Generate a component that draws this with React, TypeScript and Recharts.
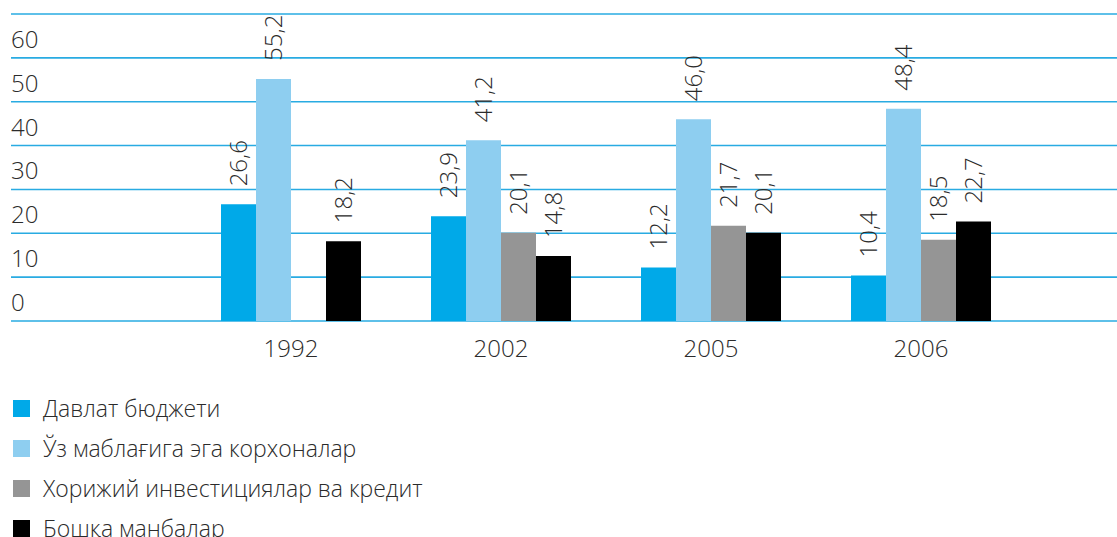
import { BarChart, Bar, XAxis, YAxis, CartesianGrid, LabelList } from "recharts";

// Investment sources by year, %
const years = ["1992", "2002", "2005", "2006"];
const davlatByudjeti = [26.6, 23.9, 12.2, 10.4];
const uzMablagi = [55.2, 41.2, 46.0, 48.4];
const xorijiyInvest = [null, 20.1, 21.7, 18.5];
const boshqaManbalar = [18.2, 14.8, 20.1, 22.7];
const yTicks = [0, 10, 20, 30, 40, 50, 60, 70];

const series = [
  { key: "davlat", name: "Давлат бюджети", color: "#00a9e8", values: davlatByudjeti },
  { key: "uz", name: "Ўз маблағига эга корхоналар", color: "#8ecef0", values: uzMablagi },
  { key: "xorijiy", name: "Хорижий инвестициялар ва кредит", color: "#959595", values: xorijiyInvest },
  { key: "boshqa", name: "Бошқа манбалар", color: "#000000", values: boshqaManbalar },
];

const data = years.map((year, i) => {
  const row: Record<string, any> = { year };
  series.forEach((s) => (row[s.key] = s.values[i]));
  return row;
});

const FONT = "'Open Sans', 'Noto Sans', sans-serif";
const TEXT = "#2b2b2b";

const YTick = (props: any) => {
  const { y, payload } = props;
  if (payload.value === 70) return null;
  return (
    <text x={11} y={y - 10} fill={TEXT} fontSize={24} fontWeight={300} fontFamily={FONT} textAnchor="start">
      {payload.value}
    </text>
  );
};

const XTick = (props: any) => {
  const { x, y, payload } = props;
  return (
    <text x={x} y={y + 28} fill={TEXT} fontSize={24} fontWeight={300} fontFamily={FONT} textAnchor="middle">
      {payload.value}
    </text>
  );
};

const ValueLabel = (props: any) => {
  const { x, y, width, value } = props;
  if (value == null) return null;
  const cx = x + width / 2 + 8.5;
  const cy = y - 18;
  return (
    <text
      x={cx}
      y={cy}
      transform={`rotate(-90 ${cx} ${cy})`}
      fill={TEXT}
      fontSize={24}
      fontWeight={300}
      fontFamily={FONT}
      textAnchor="start"
    >
      {value.toFixed(1).replace(".", ",")}
    </text>
  );
};

export default function App() {
  return (
    <div style={{ position: "absolute", left: 0, top: 0, width: 1117, height: 537, background: "#fff", overflow: "hidden" }}>
      <BarChart
        width={1117}
        height={380}
        data={data}
        margin={{ top: 14, right: 0, left: 0, bottom: 19 }}
        barSize={35}
        barGap={0}
      >
        <CartesianGrid horizontal vertical={false} stroke="#29abe2" strokeWidth={1.6} />
        <XAxis
          dataKey="year"
          axisLine={false}
          tickLine={false}
          height={40}
          padding={{ left: 175, right: 91 }}
          tick={<XTick />}
        />
        <YAxis
          width={11}
          domain={[0, 70]}
          ticks={yTicks}
          interval={0}
          axisLine={false}
          tickLine={false}
          tick={<YTick />}
        />
        {series.map((s) => (
          <Bar key={s.key} dataKey={s.key} name={s.name} fill={s.color} isAnimationActive={false}>
            <LabelList dataKey={s.key} content={<ValueLabel />} />
          </Bar>
        ))}
      </BarChart>
      <div style={{ position: "absolute", left: 13, top: 388, fontFamily: FONT, fontWeight: 300, fontSize: 23, color: TEXT }}>
        {series.map((s) => (
          <div key={s.key} style={{ display: "flex", alignItems: "center", height: 40 }}>
            <span style={{ display: "inline-block", width: 17, height: 17, background: s.color, marginRight: 13 }} />
            <span>{s.name}</span>
          </div>
        ))}
      </div>
    </div>
  );
}
